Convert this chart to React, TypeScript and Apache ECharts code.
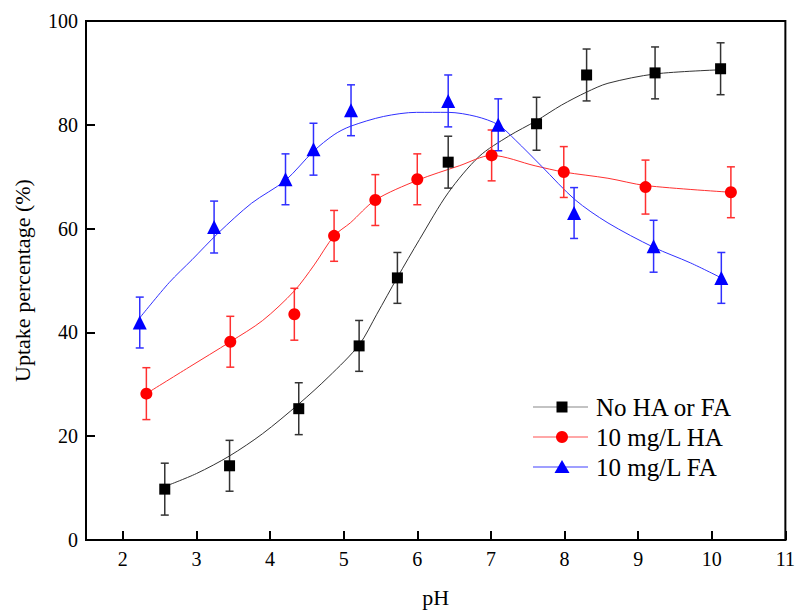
import React, { useEffect, useRef } from "react";
import * as echarts from "echarts";

const xTicks = [2, 3, 4, 5, 6, 7, 8, 9, 10, 11];
const yTicks = [0, 20, 40, 60, 80, 100];

const seriesNames = ["No HA or FA", "10 mg/L HA", "10 mg/L FA"];

const noneX = [2.57, 3.45, 4.39, 5.21, 5.73, 6.42, 7.62, 8.3, 9.23, 10.12];
const noneY = [9.8, 14.3, 25.3, 37.4, 50.5, 72.8, 80.2, 89.6, 90.0, 90.8];
const noneErr = [5, 4.9, 5, 4.9, 4.9, 5, 5.1, 5, 5, 5];

const haX = [2.32, 3.46, 4.33, 4.87, 5.43, 6.0, 7.01, 7.99, 9.1, 10.26];
const haY = [28.2, 38.2, 43.5, 58.6, 65.5, 69.5, 74.1, 70.9, 68.0, 67.0];
const haErr = [5, 4.9, 5, 4.9, 4.9, 4.9, 4.9, 4.9, 5.2, 4.9];

const faX = [2.23, 3.24, 4.21, 4.59, 5.1, 6.42, 7.1, 8.13, 9.21, 10.13];
const faY = [41.9, 60.3, 69.5, 75.3, 82.8, 84.6, 80.0, 63.0, 56.6, 50.5];
const faErr = [4.9, 5, 4.9, 5, 4.9, 5, 5, 4.9, 5, 4.9];

// fitted curves
const noneFit = [
  [2.57, 10.3], [3.0, 12.8], [3.45, 16.2], [3.9, 20.5], [4.39, 26.2], [4.8, 31.5],
  [5.21, 37.6], [5.45, 43.5], [5.73, 50.6], [6.03, 57.9], [6.42, 66.9], [6.84, 73.9],
  [7.24, 77.8], [7.62, 80.8], [7.96, 83.8], [8.3, 86.3], [8.59, 88.0], [9.23, 89.8],
  [10.12, 90.6],
];
const haFit = [
  [2.32, 28.2], [2.9, 33.3], [3.46, 38.2], [3.9, 42.3], [4.33, 48.0], [4.6, 53.0],
  [4.87, 58.6], [5.09, 61.1], [5.43, 65.5], [6.0, 69.3], [6.57, 72.1], [7.01, 74.1],
  [7.6, 72.1], [7.99, 70.9], [8.59, 69.7], [9.1, 68.3], [10.26, 67.0],
];
const faFit = [
  [2.23, 42.8], [2.63, 49.6], [2.94, 54.0], [3.3, 59.2], [3.75, 64.9], [4.21, 69.3],
  [4.59, 74.9], [4.87, 78.1], [5.09, 79.7], [5.54, 81.6], [5.99, 82.4], [6.42, 82.4],
  [6.8, 81.6], [7.1, 80.0], [7.33, 77.1], [7.69, 72.0], [8.14, 65.6], [8.59, 61.1],
  [9.21, 56.4], [9.71, 53.4], [10.13, 50.5],
];

const FONT = "'Liberation Serif', 'Times New Roman', serif";

const markerColors = ["#000000", "#ff0000", "#0000ff"];
const lineColors = ["#333333", "#ff3030", "#3030ff"];
const legendLineColors = ["#888888", "#ff5050", "#4040ff"];
const symbols = ["rect", "circle", "triangle"];
const symbolSizes = [11, 12, 14];

function zip3(xs: number[], ys: number[], es: number[]) {
  return xs.map((x, i) => [x, ys[i], es[i]]);
}

export default function App() {
  const ref = useRef<HTMLDivElement>(null);
  useEffect(() => {
    if (!ref.current) return;
    const chart = echarts.init(ref.current, undefined, { renderer: "svg" });

    const groups = [
      { pts: zip3(noneX, noneY, noneErr), fit: noneFit },
      { pts: zip3(haX, haY, haErr), fit: haFit },
      { pts: zip3(faX, faY, faErr), fit: faFit },
    ];

    const series: any[] = [];
    groups.forEach((g, i) => {
      series.push({
        type: "line",
        data: g.fit,
        smooth: 0.3,
        showSymbol: false,
        symbol: "none",
        lineStyle: { color: lineColors[i], width: 1 },
        z: 2,
        silent: true,
      });
      series.push({
        type: "custom",
        data: g.pts,
        z: 3,
        renderItem: (params: any, api: any) => {
          const x = api.value(0);
          const y = api.value(1);
          const e = api.value(2);
          const top = api.coord([x, y + e]);
          const bot = api.coord([x, y - e]);
          const hw = 4;
          const style = { stroke: lineColors[i], lineWidth: 1.5 };
          return {
            type: "group",
            children: [
              { type: "line", shape: { x1: top[0], y1: top[1], x2: bot[0], y2: bot[1] }, style },
              { type: "line", shape: { x1: top[0] - hw, y1: top[1], x2: top[0] + hw, y2: top[1] }, style },
              { type: "line", shape: { x1: bot[0] - hw, y1: bot[1], x2: bot[0] + hw, y2: bot[1] }, style },
            ],
          };
        },
      });
      series.push({
        type: "scatter",
        name: seriesNames[i],
        data: g.pts.map((p) => [p[0], p[1]]),
        symbol: symbols[i],
        symbolSize: symbolSizes[i],
        itemStyle: { color: markerColors[i], opacity: 1 },
        z: 4,
      });
    });

    const legendGraphics: any[] = [];
    const legX0 = 533;
    const legX1 = 588;
    const legMarkX = 562;
    const legTextX = 596;
    const legY0 = 407;
    const legDy = 30;
    seriesNames.forEach((name, i) => {
      const cy = legY0 + i * legDy;
      legendGraphics.push({
        type: "line",
        shape: { x1: legX0, y1: cy, x2: legX1, y2: cy },
        style: { stroke: legendLineColors[i], lineWidth: 1.2 },
        z: 10,
      });
      if (i === 0) {
        legendGraphics.push({
          type: "rect",
          shape: { x: legMarkX - 5.5, y: cy - 5.5, width: 11, height: 11 },
          style: { fill: markerColors[i] },
          z: 11,
        });
      } else if (i === 1) {
        legendGraphics.push({
          type: "circle",
          shape: { cx: legMarkX, cy, r: 6 },
          style: { fill: markerColors[i] },
          z: 11,
        });
      } else {
        legendGraphics.push({
          type: "polygon",
          shape: { points: [[legMarkX, cy - 7], [legMarkX - 7.5, cy + 6], [legMarkX + 7.5, cy + 6]] },
          style: { fill: markerColors[i] },
          z: 11,
        });
      }
      legendGraphics.push({
        type: "text",
        x: legTextX,
        y: cy,
        style: {
          text: name,
          fill: "#000",
          font: `25px ${FONT}`,
          textVerticalAlign: "middle",
          verticalAlign: "middle",
        },
        z: 11,
      });
    });

    chart.setOption({
      animation: false,
      backgroundColor: "#fff",
      textStyle: { fontFamily: FONT },
      grid: {
        left: 86,
        right: 5,
        top: 21,
        bottom: 72,
        show: true,
        borderColor: "#000",
        borderWidth: 2,
      },
      xAxis: {
        type: "value",
        min: 1.5,
        max: 11,
        name: "pH",
        nameLocation: "middle",
        nameGap: 46,
        nameTextStyle: { fontSize: 22, color: "#000", fontFamily: FONT },
        axisLine: { show: true, lineStyle: { color: "#000", width: 2 } },
        axisTick: { show: true, inside: true, length: 9, customValues: xTicks, lineStyle: { color: "#000", width: 2 } },
        axisLabel: { customValues: xTicks, fontSize: 20, color: "#000", fontFamily: FONT, margin: 9 },
        splitLine: { show: false },
      },
      yAxis: {
        type: "value",
        min: 0,
        max: 100,
        interval: 20,
        name: "Uptake percentage (%)",
        nameLocation: "middle",
        nameGap: 53,
        nameTextStyle: { fontSize: 22, color: "#000", fontFamily: FONT },
        axisLine: { show: true, lineStyle: { color: "#000", width: 2 } },
        axisTick: { show: true, inside: true, length: 9, customValues: yTicks, lineStyle: { color: "#000", width: 2 } },
        axisLabel: { customValues: yTicks, fontSize: 20, color: "#000", fontFamily: FONT, margin: 8 },
        splitLine: { show: false },
      },
      graphic: legendGraphics,
      series,
    });

    return () => chart.dispose();
  }, []);

  return (
    <div
      ref={ref}
      style={{ position: "absolute", left: 0, top: 0, width: 798, height: 613 }}
    />
  );
}
